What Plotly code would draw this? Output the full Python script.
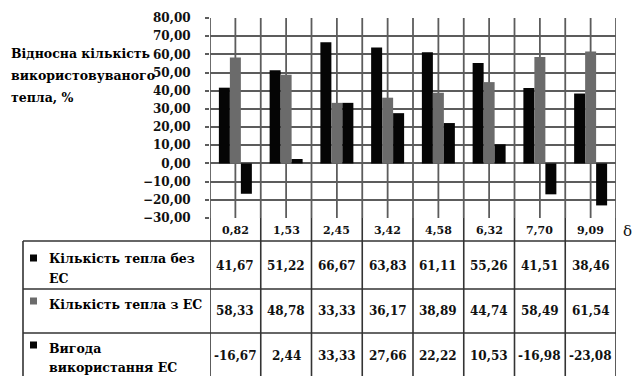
import plotly.graph_objects as go

# Relative heat usage by regime parameter delta
deltas = ["0,82", "1,53", "2,45", "3,42", "4,58", "6,32", "7,70", "9,09"]
heat_without_es = [41.67, 51.22, 66.67, 63.83, 61.11, 55.26, 41.51, 38.46]
heat_with_es = [58.33, 48.78, 33.33, 36.17, 38.89, 44.74, 58.49, 61.54]
es_benefit = [-16.67, 2.44, 33.33, 27.66, 22.22, 10.53, -16.98, -23.08]

series_names = ["Кількість тепла без ЕС", "Кількість тепла з ЕС", "Вигода використання ЕС"]
series_values = [heat_without_es, heat_with_es, es_benefit]
series_colors = ["#050505", "#6b6b6b", "#050505"]
row_label_lines = [["Кількість тепла без", "ЕС"], ["Кількість тепла з ЕС"], ["Вигода", "використання ЕС"]]
y_title_lines = ["Відносна кількість", "використовуваного", "тепла, %"]

W, H = 632, 376
L, R, T, B = 210, 616, 18, 218
PW, PH = R - L, B - T

SERIF = "DejaVu Serif"
GRID = "#5c5c5c"
TABLE = "#333333"


def px(x):
    return (x - L) / PW


def py(y):
    return (B - y) / PH


xs = list(range(len(deltas)))
fig = go.Figure()
for name, vals, col in zip(series_names, series_values, series_colors):
    fig.add_trace(go.Bar(x=xs, y=vals, name=name, marker=dict(color=col, line=dict(width=0)),
                         showlegend=False))

shapes = []
annotations = []

# half-category vertical grid lines underneath the bars
for k in range(2 * len(deltas) + 1):
    xv = -0.5 + 0.5 * k
    shapes.append(dict(type="line", xref="x", yref="paper", x0=xv, x1=xv, y0=0, y1=1,
                       layer="below", line=dict(color=GRID, width=1.8)))

# table grid: column separators from the axis down to the bottom
for i in range(len(deltas) + 1):
    shapes.append(dict(type="line", xref="x", yref="paper", x0=i - 0.5, x1=i - 0.5,
                       y0=py(B), y1=py(H + 5), line=dict(color=TABLE, width=1.6)))
# header row bottom and row separators
for y in [241, 289, 333]:
    shapes.append(dict(type="line", xref="paper", yref="paper", x0=px(23), x1=1,
                       y0=py(y), y1=py(y), line=dict(color=TABLE, width=1.6)))
# left border of the label column
shapes.append(dict(type="line", xref="paper", yref="paper", x0=px(23), x1=px(23),
                   y0=py(241), y1=py(H + 5), line=dict(color=TABLE, width=1.6)))

# header row: delta values
for i, d in enumerate(deltas):
    annotations.append(dict(x=i, y=py(230), xref="x", yref="paper", text=d, showarrow=False,
                            font=dict(family=SERIF, size=11, color="#111", weight="bold"),
                            xanchor="center", yanchor="middle"))
annotations.append(dict(x=px(621), y=py(231), xref="paper", yref="paper", text="δ",
                        showarrow=False, font=dict(family=SERIF, size=15, color="#111"),
                        xanchor="left", yanchor="middle"))

# data rows
for vals, yv in zip(series_values, [266, 311, 356]):
    for i, v in enumerate(vals):
        annotations.append(dict(x=i, y=py(yv), xref="x", yref="paper",
                                text=f"{v:.2f}".replace(".", ","), showarrow=False,
                                font=dict(family=SERIF, size=12, color="#111", weight="bold"),
                                xanchor="center", yanchor="middle"))

# row labels with legend keys
key_y = [258, 301, 345]
label_line_y = [[258, 278], [304], [348, 367]]
for col, ky, lines, ly in zip(series_colors, key_y, row_label_lines, label_line_y):
    shapes.append(dict(type="rect", xref="paper", yref="paper", x0=px(30), x1=px(37),
                       y0=py(ky + 3.5), y1=py(ky - 3.5), fillcolor=col, line=dict(width=0)))
    for txt, yy in zip(lines, ly):
        annotations.append(dict(x=px(47), y=py(yy), xref="paper", yref="paper", text=txt,
                                showarrow=False,
                                font=dict(family=SERIF, size=12.5, color="#000", weight="bold"),
                                xanchor="left", yanchor="middle"))

# y axis title, one annotation per line
for txt, yy in zip(y_title_lines, [53, 75, 97]):
    annotations.append(dict(x=px(9), y=py(yy), xref="paper", yref="paper", text=txt,
                            showarrow=False,
                            font=dict(family=SERIF, size=12.5, color="#000", weight="bold"),
                            xanchor="left", yanchor="middle"))

fig.update_layout(
    width=W, height=H,
    margin=dict(l=L, r=W - R, t=T, b=H - B, pad=0),
    paper_bgcolor="white", plot_bgcolor="white",
    barmode="group", bargap=0.35, bargroupgap=0,
    separators=", ",
    shapes=shapes, annotations=annotations,
    xaxis=dict(range=[-0.5, len(deltas) - 0.5], showgrid=False, showticklabels=False,
               ticks="", zeroline=False, showline=False),
    yaxis=dict(range=[-30, 80], dtick=10, tickformat=".2f", showgrid=True, gridcolor=GRID,
               gridwidth=1.8, zeroline=False, showline=False, ticks="outside", ticklen=4,
               tickcolor=GRID, tickwidth=1.8, ticklabelstandoff=12,
               tickfont=dict(family=SERIF, size=12, color="#111", weight="bold")),
)

fig.write_html("out.html")
